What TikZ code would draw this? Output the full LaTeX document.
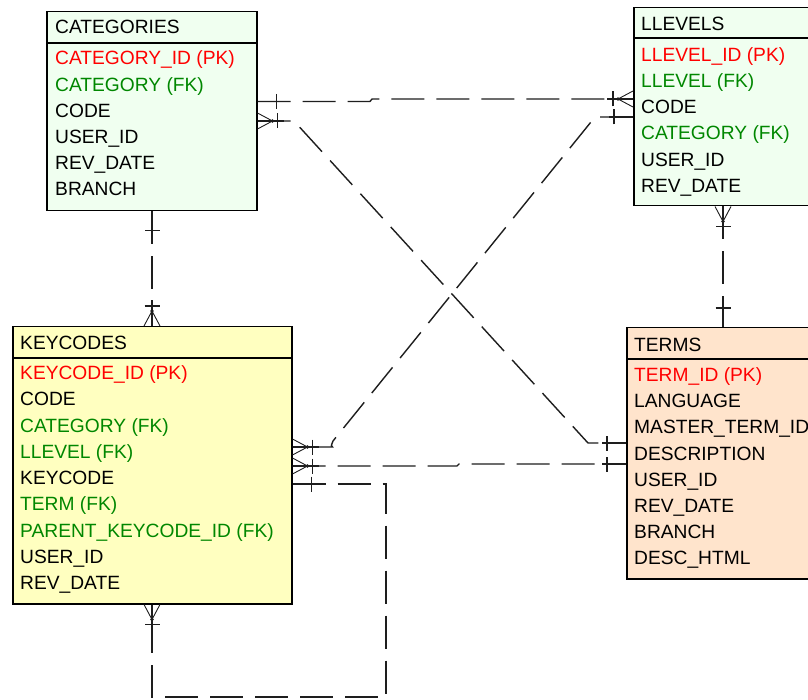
\documentclass[tikz,border=0pt]{standalone}
\usepackage{fontspec}
\setmainfont{Liberation Sans}
\usetikzlibrary{calc}
\definecolor{greenfill}{RGB}{240,255,240}
\definecolor{yellowfill}{RGB}{255,255,192}
\definecolor{peachfill}{RGB}{255,228,204}
\definecolor{pkred}{RGB}{255,0,0}
\definecolor{fkgreen}{RGB}{0,135,0}
\definecolor{linegray}{RGB}{30,30,30}
\begin{document}
\begin{tikzpicture}[x=1pt,y=-1pt,
  tbl/.style={draw=black,line width=1.5pt,inner sep=0pt,anchor=north west},
  septr/.style={draw=black,line width=1.5pt},
  rowtxt/.style={inner sep=0pt,anchor=base west,font=\fontsize{19.2}{22}\selectfont},
  conn/.style={draw=linegray,line width=1.4pt,dash pattern=on 33pt off 12pt},
  stub/.style={draw=linegray,line width=1.4pt,solid},
  fan/.style={draw=linegray,line width=0.9pt,solid},
  onemark/.pic={\draw[stub] (0,0) -- (24,0); \draw[stub] (19,-7.5) -- (19,7.5);},
  manymark/.pic={\draw[stub] (0,0) -- (26,0); \draw[stub] (20,-7.5) -- (20,7.5);
     \fill[linegray] (15,0) circle (1.9); \draw[fan] (15,0) -- (0,-8) (15,0) -- (0,8);}
]
\useasboundingbox (0,0) rectangle (808,700);
\clip (0,0) rectangle (808,700);
\fill[white] (0,0) rectangle (808,700);

% ---------- tables ----------
\node[tbl,fill=greenfill,minimum width=210pt,minimum height=199pt] (cat) at (46,11) {};
\draw[septr] ($(cat.north west)+(0,32)$) -- ($(cat.north east)+(0,32)$);
\node[rowtxt] (cat-h) at ($(cat.north west)+(9,16+6.9)$) {CATEGORIES};
\foreach \c/\t [count=\i from 0] in {pkred/CATEGORY\_ID (PK),fkgreen/CATEGORY (FK),black/CODE,black/USER\_ID,black/REV\_DATE,black/BRANCH}
  \node[rowtxt,text=\c] (cat-r\i) at ($(cat.north west)+(9,47+6.9+26.2*\i)$) {\t};

\node[tbl,fill=greenfill,minimum width=200pt,minimum height=198pt] (llv) at (633,7) {};
\draw[septr] ($(llv.north west)+(0,31)$) -- ($(llv.north east)+(0,31)$);
\node[rowtxt] (llv-h) at ($(llv.north west)+(8,17+6.9)$) {LLEVELS};
\foreach \c/\t [count=\i from 0] in {pkred/LLEVEL\_ID (PK),fkgreen/LLEVEL (FK),black/CODE,fkgreen/CATEGORY (FK),black/USER\_ID,black/REV\_DATE}
  \node[rowtxt,text=\c] (llv-r\i) at ($(llv.north west)+(8,47.5+6.9+26.2*\i)$) {\t};

\node[tbl,fill=yellowfill,minimum width=279pt,minimum height=277pt] (key) at (12,326) {};
\draw[septr] ($(key.north west)+(0,32)$) -- ($(key.north east)+(0,32)$);
\node[rowtxt] (key-h) at ($(key.north west)+(8,16.5+6.9)$) {KEYCODES};
\foreach \c/\t [count=\i from 0] in {pkred/KEYCODE\_ID (PK),black/CODE,fkgreen/CATEGORY (FK),fkgreen/LLEVEL (FK),black/KEYCODE,fkgreen/TERM (FK),fkgreen/PARENT\_KEYCODE\_ID (FK),black/USER\_ID,black/REV\_DATE}
  \node[rowtxt,text=\c] (key-r\i) at ($(key.north west)+(8,46.5+6.9+26.3*\i)$) {\t};

\node[tbl,fill=peachfill,minimum width=210pt,minimum height=251pt] (trm) at (626,327) {};
\draw[septr] ($(trm.north west)+(0,32)$) -- ($(trm.north east)+(0,32)$);
\node[rowtxt] (trm-h) at ($(trm.north west)+(8,17.5+6.9)$) {TERMS};
\foreach \c/\t [count=\i from 0] in {pkred/TERM\_ID (PK),black/LANGUAGE,black/MASTER\_TERM\_ID,black/DESCRIPTION,black/USER\_ID,black/REV\_DATE,black/BRANCH,black/DESC\_HTML}
  \node[rowtxt,text=\c] (trm-r\i) at ($(trm.north west)+(8,47.5+6.9+26.2*\i)$) {\t};

% ---------- connectors ----------
% CATEGORIES -- LLEVELS (top)
\draw[conn] ($(cat.north east)+(0,90.5)$) -- (370,101.5) -- (372,99) -- ($(llv.north west)+(0,92)$);
\pic at ($(cat.north east)+(0,90.5)$) {onemark};
\pic[rotate=180] at ($(llv.north west)+(0,92)$) {manymark};

% CATEGORIES -- TERMS (diagonal)
\draw[conn] ($(cat.north east)+(0,110)$) -- (294,121) -- (588,443) -- ($(trm.north west)+(0,116)$);
\pic at ($(cat.north east)+(0,110)$) {manymark};
\pic[rotate=180] at ($(trm.north west)+(0,116)$) {onemark};

% LLEVELS -- KEYCODES (diagonal)
\draw[conn] ($(llv.north west)+(0,110)$) -- (595,117) -- (333,441) .. controls (331,446) .. ($(key.north east)+(40,121)$) -- ($(key.north east)+(0,121)$);
\pic[rotate=180] at ($(llv.north west)+(0,110)$) {onemark};
\pic at ($(key.north east)+(0,121)$) {manymark};

% KEYCODES -- TERMS
\draw[conn] ($(key.north east)+(0,140)$) -- (457,466) -- (459,464) -- ($(trm.north west)+(0,137)$);
\pic at ($(key.north east)+(0,140)$) {manymark};
\pic[rotate=180] at ($(trm.north west)+(0,137)$) {onemark};

% KEYCODES self relation
\draw[conn] ($(key.north east)+(0,158)$) -- (386,484) -- (386,697) -- (152,697) -- ($(key.south west)+(140,0)$);
\pic at ($(key.north east)+(0,158)$) {onemark};
\pic[rotate=-90] at ($(key.south west)+(140,0)$) {manymark};

% CATEGORIES -- KEYCODES (vertical)
\draw[conn] ($(cat.south west)+(106,0)$) -- ($(key.north west)+(140,0)$);
\pic[rotate=-90] at ($(cat.south west)+(106,0)$) {onemark};
\pic[rotate=90] at ($(key.north west)+(140,0)$) {manymark};

% LLEVELS -- TERMS (vertical)
\draw[conn] ($(llv.south west)+(90,0)$) -- ($(trm.north west)+(97,0)$);
\pic[rotate=-90] at ($(llv.south west)+(90,0)$) {manymark};
\pic[rotate=90] at ($(trm.north west)+(97,0)$) {onemark};
\end{tikzpicture}
\end{document}
